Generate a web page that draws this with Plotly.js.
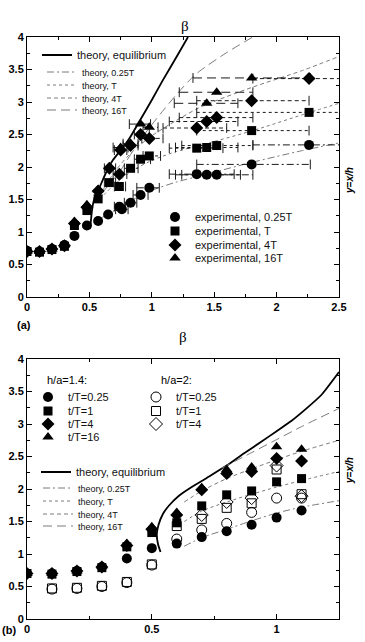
<!DOCTYPE html>
<html>
<head>
<meta charset="utf-8">
<script src="https://cdn.plot.ly/plotly-3.0.1.min.js"></script>
<style>
  html, body { margin: 0; padding: 0; background: #fff; }
  #chart { width: 365px; height: 642px; }
</style>
</head>
<body>
<div id="chart"></div>
<script>
// ===== Panel (a): theory curves, x = beta, y = x/h =====
const aEqBeta  = [0.505, 0.512, 0.518, 0.53, 0.55, 0.584, 0.63, 0.69, 0.76, 0.824, 0.90, 1.0, 1.09, 1.2, 1.29];
const aEqY     = [1.05, 1.17, 1.29, 1.44, 1.58, 1.70, 1.90, 2.11, 2.28, 2.45, 2.70, 3.03, 3.34, 3.70, 4.0];
const a025Beta = [0.58, 0.7, 0.85, 1.0, 1.2, 1.4, 1.8, 2.2, 2.5];
const a025Y    = [1.20, 1.33, 1.50, 1.64, 1.77, 1.87, 2.07, 2.25, 2.37];
const aTBeta   = [0.58, 0.7, 0.85, 1.0, 1.2, 1.38, 1.81, 2.2, 2.5];
const aTY      = [1.50, 1.73, 1.95, 2.10, 2.24, 2.33, 2.56, 2.80, 2.98];
const a4TBeta  = [0.60, 0.7, 0.8, 0.9, 1.0, 1.2, 1.4, 1.81, 2.2, 2.5];
const a4TY     = [1.62, 1.92, 2.15, 2.33, 2.48, 2.72, 2.93, 3.23, 3.48, 3.70];
const a16TBeta = [0.60, 0.74, 0.80, 0.9, 1.0, 1.1, 1.2, 1.3, 1.38, 1.6, 1.81];
const a16TY    = [1.60, 1.92, 2.10, 2.40, 2.65, 2.89, 3.12, 3.33, 3.47, 3.76, 4.0];

// ===== Panel (a): experiments (with horizontal error ranges on beta) =====
const aCircX  = [0, 0.1, 0.2, 0.3, 0.38, 0.48, 0.57, 0.65, 0.74, 0.76, 0.83, 0.91, 0.98, 1.36, 1.44, 1.52, 1.80, 2.26];
const aCircY  = [0.71, 0.70, 0.74, 0.80, 0.94, 1.10, 1.17, 1.27, 1.39, 1.35, 1.45, 1.57, 1.68, 1.89, 1.88, 1.88, 2.04, 2.34];
const aCircLo = [null, null, null, null, null, null, null, null, 0.70, 0.71, 0.78, 0.85, 0.88, 1.14, 1.19, 1.24, 1.36, 1.81];
const aCircHi = [null, null, null, null, null, null, null, null, 0.79, 0.81, 0.88, 0.97, 1.06, 1.66, 1.71, 1.81, 2.27, 2.75];

const aSqX  = [0, 0.1, 0.2, 0.3, 0.38, 0.48, 0.57, 0.66, 0.74, 0.83, 0.91, 0.98, 1.36, 1.44, 1.52, 1.80, 2.26];
const aSqY  = [0.70, 0.69, 0.73, 0.78, 1.10, 1.33, 1.51, 1.76, 1.70, 1.98, 2.12, 2.17, 2.29, 2.30, 2.33, 2.56, 2.84];
const aSqLo = [null, null, null, null, null, null, null, 0.62, 0.70, 0.78, 0.86, 0.93, 1.14, 1.19, 1.24, 1.36, 1.36];
const aSqHi = [null, null, null, null, null, null, null, 0.71, 0.79, 0.89, 0.99, 1.07, 1.57, 1.69, 1.81, 2.26, 3.2];

const aDiaX  = [0, 0.1, 0.2, 0.3, 0.38, 0.48, 0.57, 0.66, 0.74, 0.75, 0.83, 0.91, 0.98, 1.36, 1.44, 1.52, 1.80, 2.26];
const aDiaY  = [0.70, 0.70, 0.74, 0.79, 1.13, 1.38, 1.63, 1.98, 1.89, 2.26, 2.33, 2.50, 2.44, 2.60, 2.70, 2.76, 3.02, 3.36];
const aDiaLo = [null, null, null, null, null, null, null, 0.62, 0.69, 0.70, 0.77, 0.86, 0.92, 1.09, 1.14, 1.22, 1.36, 1.81];
const aDiaHi = [null, null, null, null, null, null, null, 0.71, 0.80, 0.80, 0.89, 0.98, 1.09, 1.60, 1.69, 1.81, 2.26, 2.75];

const aTriX  = [0, 0.1, 0.2, 0.3, 0.38, 0.48, 0.57, 0.66, 0.75, 0.83, 0.91, 0.98, 1.44, 1.52, 1.80];
const aTriY  = [0.70, 0.70, 0.74, 0.80, 1.16, 1.42, 1.65, 2.00, 2.30, 2.36, 2.66, 2.61, 2.98, 3.15, 3.37];
const aTriLo = [null, null, null, null, null, null, null, null, 0.69, 0.77, 0.82, 0.93, 1.18, 1.22, 1.33];
const aTriHi = [null, null, null, null, null, null, null, null, 0.81, 0.89, 0.99, 1.05, 1.69, 1.81, 2.27];

// ===== Panel (b): theory curves =====
const bEqBeta  = [0.535, 0.525, 0.52, 0.527, 0.545, 0.57, 0.61, 0.66, 0.72, 0.80, 0.87, 0.94, 1.0, 1.06, 1.12, 1.18, 1.25];
const bEqY     = [1.03, 1.15, 1.30, 1.45, 1.62, 1.75, 1.90, 2.03, 2.17, 2.36, 2.55, 2.73, 2.89, 3.05, 3.24, 3.45, 3.80];
const b025Beta = [0.63, 0.7, 0.8, 0.9, 1.0, 1.1, 1.25];
const b025Y    = [1.12, 1.25, 1.38, 1.51, 1.63, 1.72, 1.82];
const bTBeta   = [0.63, 0.7, 0.8, 0.9, 1.0, 1.1, 1.25];
const bTY      = [1.50, 1.66, 1.80, 1.92, 2.03, 2.13, 2.27];
const b4TBeta  = [0.63, 0.7, 0.8, 0.9, 1.0, 1.1, 1.25];
const b4TY     = [1.80, 1.97, 2.16, 2.31, 2.45, 2.58, 2.75];
const b16TBeta = [0.78, 0.9, 1.0, 1.1, 1.25];
const b16TY    = [2.32, 2.56, 2.76, 2.96, 3.24];

// ===== Panel (b): experiments, h/a = 1.4 (filled) and h/a = 2 (open) =====
const bBeta     = [0, 0.1, 0.2, 0.3, 0.4, 0.5, 0.6, 0.7, 0.8, 0.9, 1.0, 1.1];
const b14t025   = [0.70, 0.70, 0.74, 0.80, 0.93, 1.09, 1.16, 1.26, 1.35, 1.45, 1.56, 1.67];
const b14t1     = [0.70, 0.69, 0.73, 0.79, 1.11, 1.33, 1.48, 1.74, 1.91, 1.97, 2.11, 2.16];
const b14t4     = [0.70, 0.70, 0.74, 0.80, 1.13, 1.38, 1.60, 1.99, 2.24, 2.27, 2.47, 2.43];
const b14t16    = [0.70, 0.70, 0.74, 0.81, 1.16, 1.42, 1.64, 2.02, 2.30, 2.34, 2.65, 2.61];
const b2Beta    = [0.1, 0.2, 0.3, 0.4, 0.5, 0.6, 0.7, 0.8, 0.9, 1.0, 1.1];
const b2t025    = [0.46, 0.47, 0.50, 0.56, 0.83, 1.23, 1.37, 1.47, 1.64, 1.86, 1.86];
const b2t1      = [0.47, 0.48, 0.51, 0.57, 0.84, 1.43, 1.54, 1.71, 1.78, 2.30, 1.92];
const b2t4Beta  = [0.7, 0.8, 0.9, 1.0, 1.1];
const b2t4      = [1.60, 1.80, 1.86, 2.36, 1.89];

// ---------- styling helpers ----------
const FONT = 'Liberation Sans, Arial, Helvetica, sans-serif';
const THEORY_GREY = '#7a7a7a';
const DASH = { q: '7px,3px,2px,3px', t: 'dot', f: '4px,3px', s: '9px,5px' };

// Map a pixel location in the 365x642 page to paper coordinates
const PLOT_L = 27, PLOT_W = 312, PLOT_B = 619, PLOT_H = 582;
const px2x = p => (p - PLOT_L) / PLOT_W;
const py2y = p => (PLOT_B - p) / PLOT_H;

function legendAt(left, centre, size) {
  return {
    x: px2x(left), y: py2y(centre), xanchor: 'left', yanchor: 'middle',
    bgcolor: 'rgba(0,0,0,0)', borderwidth: 0, itemwidth: 30,
    font: { family: FONT, size: size, color: '#111' }
  };
}

function theory(x, y, dash, color, width, name, legend, xa, ya, smooth) {
  return {
    type: 'scatter', mode: 'lines', x: x, y: y, name: name,
    line: { color: color, width: width, dash: dash,
            shape: smooth ? 'spline' : 'linear', smoothing: smooth || 0 },
    xaxis: xa, yaxis: ya, legend: legend, showlegend: true, hoverinfo: 'skip'
  };
}

// Horizontal error ranges drawn as styled segments plus end caps
function errorTraces(x, y, lo, hi, dash) {
  const sx = [], sy = [], cx = [], cy = [];
  for (let i = 0; i < x.length; i++) {
    if (lo[i] == null) continue;
    sx.push(lo[i], hi[i], null); sy.push(y[i], y[i], null);
    cx.push(lo[i], hi[i]); cy.push(y[i], y[i]);
  }
  return [
    { type: 'scatter', mode: 'lines', x: sx, y: sy, xaxis: 'x', yaxis: 'y',
      line: { color: '#1a1a1a', width: 1, dash: dash }, showlegend: false, hoverinfo: 'skip' },
    { type: 'scatter', mode: 'markers', x: cx, y: cy, xaxis: 'x', yaxis: 'y',
      marker: { symbol: 'line-ns-open', size: 7, color: '#1a1a1a',
                line: { color: '#1a1a1a', width: 1 } },
      showlegend: false, hoverinfo: 'skip' }
  ];
}

function points(x, y, symbol, size, name, legend, xa, ya) {
  const open = symbol.indexOf('open') >= 0;
  return {
    type: 'scatter', mode: 'markers', x: x, y: y, name: name,
    xaxis: xa, yaxis: ya, legend: legend, showlegend: true, hoverinfo: 'skip',
    marker: { symbol: symbol, size: size, color: '#000',
              line: { color: '#000', width: open ? 1 : 0 } }
  };
}

const traces = [
  // panel (a) theory
  theory(aEqBeta, aEqY, 'solid', '#000', 1.8, 'theory, equilibrium', 'legend', 'x', 'y', 0.6),
  theory(a025Beta, a025Y, DASH.q, THEORY_GREY, 1, 'theory, 0.25T', 'legend2', 'x', 'y', 0.8),
  theory(aTBeta, aTY, DASH.t, THEORY_GREY, 1, 'theory, T', 'legend3', 'x', 'y', 0.8),
  theory(a4TBeta, a4TY, DASH.f, THEORY_GREY, 1, 'theory, 4T', 'legend4', 'x', 'y', 0.8),
  theory(a16TBeta, a16TY, DASH.s, THEORY_GREY, 1, 'theory, 16T', 'legend5', 'x', 'y', 0.8),
  // panel (a) error ranges
  ...errorTraces(aCircX, aCircY, aCircLo, aCircHi, DASH.q),
  ...errorTraces(aSqX, aSqY, aSqLo, aSqHi, DASH.t),
  ...errorTraces(aDiaX, aDiaY, aDiaLo, aDiaHi, DASH.f),
  ...errorTraces(aTriX, aTriY, aTriLo, aTriHi, DASH.s),
  // panel (a) experiments
  points(aCircX, aCircY, 'circle', 10, 'experimental, 0.25T', 'legend6', 'x', 'y'),
  points(aSqX, aSqY, 'square', 9, 'experimental, T', 'legend7', 'x', 'y'),
  points(aDiaX, aDiaY, 'diamond', 10, 'experimental, 4T', 'legend8', 'x', 'y'),
  points(aTriX, aTriY, 'triangle-up', 10, 'experimental, 16T', 'legend9', 'x', 'y'),

  // panel (b) theory
  theory(bEqBeta, bEqY, 'solid', '#000', 1.8, 'theory, equilibrium', 'legend10', 'x2', 'y2', 0.5),
  theory(b025Beta, b025Y, DASH.q, THEORY_GREY, 1, 'theory, 0.25T', 'legend11', 'x2', 'y2', 0.8),
  theory(bTBeta, bTY, DASH.t, THEORY_GREY, 1, 'theory, T', 'legend12', 'x2', 'y2', 0.8),
  theory(b4TBeta, b4TY, DASH.f, THEORY_GREY, 1, 'theory, 4T', 'legend13', 'x2', 'y2', 0.8),
  theory(b16TBeta, b16TY, DASH.s, THEORY_GREY, 1, 'theory, 16T', 'legend14', 'x2', 'y2', 0.8),
  // panel (b) h/a = 2 (open)
  points(b2Beta, b2t025, 'circle-open', 10, 't/T=0.25', 'legend19', 'x2', 'y2'),
  points(b2Beta, b2t1, 'square-open', 9, 't/T=1', 'legend20', 'x2', 'y2'),
  points(b2t4Beta, b2t4, 'diamond-open', 10, 't/T=4', 'legend21', 'x2', 'y2'),
  // panel (b) h/a = 1.4 (filled)
  points(bBeta, b14t025, 'circle', 10, 't/T=0.25', 'legend15', 'x2', 'y2'),
  points(bBeta, b14t1, 'square', 9, 't/T=1', 'legend16', 'x2', 'y2'),
  points(bBeta, b14t4, 'diamond', 10, 't/T=4', 'legend17', 'x2', 'y2'),
  points(bBeta, b14t16, 'triangle-up', 10, 't/T=16', 'legend18', 'x2', 'y2')
];

const MINOR = { ticks: 'inside', ticklen: 3, dtick: 0.25, tickcolor: '#000', tickwidth: 1 };

function axisBase(extra) {
  return Object.assign({
    showgrid: false, zeroline: false, showline: true, linecolor: '#000', linewidth: 1,
    mirror: 'allticks', ticks: 'inside', ticklen: 5, tickcolor: '#000', tickwidth: 1,
    tickfont: { family: FONT, size: 11, color: '#000', weight: 'bold' },
    minor: MINOR, dtick: 0.5, fixedrange: true
  }, extra);
}

const ANN_FONT = { family: FONT, size: 11, color: '#000' };
const SERIF = { family: 'Liberation Serif, Times New Roman, serif', size: 15, color: '#000' };
const SIDE = { family: FONT, size: 10, color: '#000', weight: 'bold', style: 'italic' };

const layout = {
  width: 365, height: 642,
  margin: { l: 27, r: 26, t: 37, b: 23 },
  paper_bgcolor: '#fff', plot_bgcolor: '#fff',
  font: { family: FONT, color: '#000' },
  xaxis:  axisBase({ domain: [0, 1], range: [0, 2.5], anchor: 'y' }),
  yaxis:  axisBase({ domain: [py2y(297), 1], range: [0, 4], anchor: 'x' }),
  xaxis2: axisBase({ domain: [0, 1], range: [0, 1.25], anchor: 'y2' }),
  yaxis2: axisBase({ domain: [0, py2y(359)], range: [0, 4], anchor: 'x2' }),

  // panel (a) legends
  legend:   legendAt(37, 55, 11),
  legend2:  legendAt(42, 72, 9),
  legend3:  legendAt(42, 85, 9),
  legend4:  legendAt(42, 98, 9),
  legend5:  legendAt(42, 110, 9),
  legend6:  legendAt(155, 217, 11),
  legend7:  legendAt(155, 231, 11),
  legend8:  legendAt(155, 245, 11),
  legend9:  legendAt(155, 258, 11),
  // panel (b) legends
  legend10: legendAt(36, 472, 11),
  legend11: legendAt(38, 488, 9),
  legend12: legendAt(38, 501, 9),
  legend13: legendAt(38, 514, 9),
  legend14: legendAt(38, 526, 9),
  legend15: legendAt(28, 397, 11),
  legend16: legendAt(28, 411, 11),
  legend17: legendAt(28, 424, 11),
  legend18: legendAt(28, 437, 11),
  legend19: legendAt(136, 397, 11),
  legend20: legendAt(136, 411, 11),
  legend21: legendAt(136, 424, 11),

  annotations: [
    { text: 'β', xref: 'paper', yref: 'paper', x: px2x(185), y: py2y(16), showarrow: false, font: SERIF },
    { text: 'β', xref: 'paper', yref: 'paper', x: px2x(183), y: py2y(337), showarrow: false, font: SERIF },
    { text: 'y=x/h', xref: 'paper', yref: 'paper', x: px2x(357), y: py2y(165), showarrow: false,
      textangle: -90, font: SIDE },
    { text: 'y=x/h', xref: 'paper', yref: 'paper', x: px2x(357), y: py2y(486), showarrow: false,
      textangle: -90, font: SIDE },
    { text: '(a)', xref: 'paper', yref: 'paper', x: px2x(15), y: py2y(325), showarrow: false,
      font: Object.assign({}, ANN_FONT, { weight: 'bold' }) },
    { text: '(b)', xref: 'paper', yref: 'paper', x: px2x(0), y: py2y(638), xanchor: 'left',
      showarrow: false, font: Object.assign({}, ANN_FONT, { weight: 'bold' }) },
    { text: 'h/a=1.4:', xref: 'paper', yref: 'paper', x: px2x(45), y: py2y(380), xanchor: 'left',
      showarrow: false, font: ANN_FONT },
    { text: 'h/a=2:', xref: 'paper', yref: 'paper', x: px2x(159), y: py2y(380), xanchor: 'left',
      showarrow: false, font: ANN_FONT }
  ]
};

Plotly.newPlot('chart', traces, layout, { staticPlot: true, displayModeBar: false });
</script>
</body>
</html>
